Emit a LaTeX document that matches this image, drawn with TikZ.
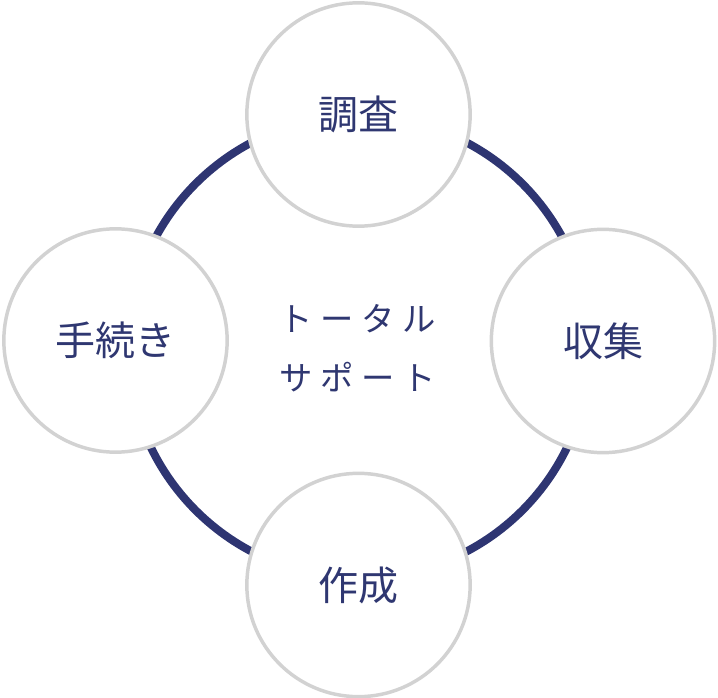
\documentclass[tikz,border=0pt]{standalone}
\usepackage{fontspec}
\newfontfamily\jpfont{Noto Sans CJK JP}
\definecolor{ringnavy}{HTML}{2E3572}
\definecolor{textnavy}{HTML}{2F3771}
\definecolor{rimgray}{HTML}{D2D2D2}
\newcommand{\kgap}{\hspace{5.8pt}}

\begin{document}
\begin{tikzpicture}[x=0.75pt, y=-0.75pt,
    stagecircle/.style={draw=rimgray, line width=2.6pt, fill=white, circle, inner sep=0pt,
        minimum size=167.5pt, text=textnavy, font=\jpfont\fontsize{30}{32}\selectfont}]
				\useasboundingbox (0,0) rectangle (718,698);
				\coordinate (C) at (359, 347);
				\draw[ringnavy, line width=6pt] (C) circle (231);
				\node[stagecircle] (S1)at(358.5, 114.5) {調査};
				\node[stagecircle] (S2)at(603, 341) {収集};
				\node[stagecircle] (S3)at(358.5, 585) {作成};
				\node[stagecircle] (S4)at(115.5, 340.5) {手続き};
				\node[align=center, text=textnavy, font=\jpfont\fontsize{25}{44}\selectfont] (TS)at(357.5, 348.5) {ト\kgap ー\kgap タ\kgap ル\\サ\kgap ポ\kgap ー\kgap ト};
			\end{tikzpicture}
\end{document}
